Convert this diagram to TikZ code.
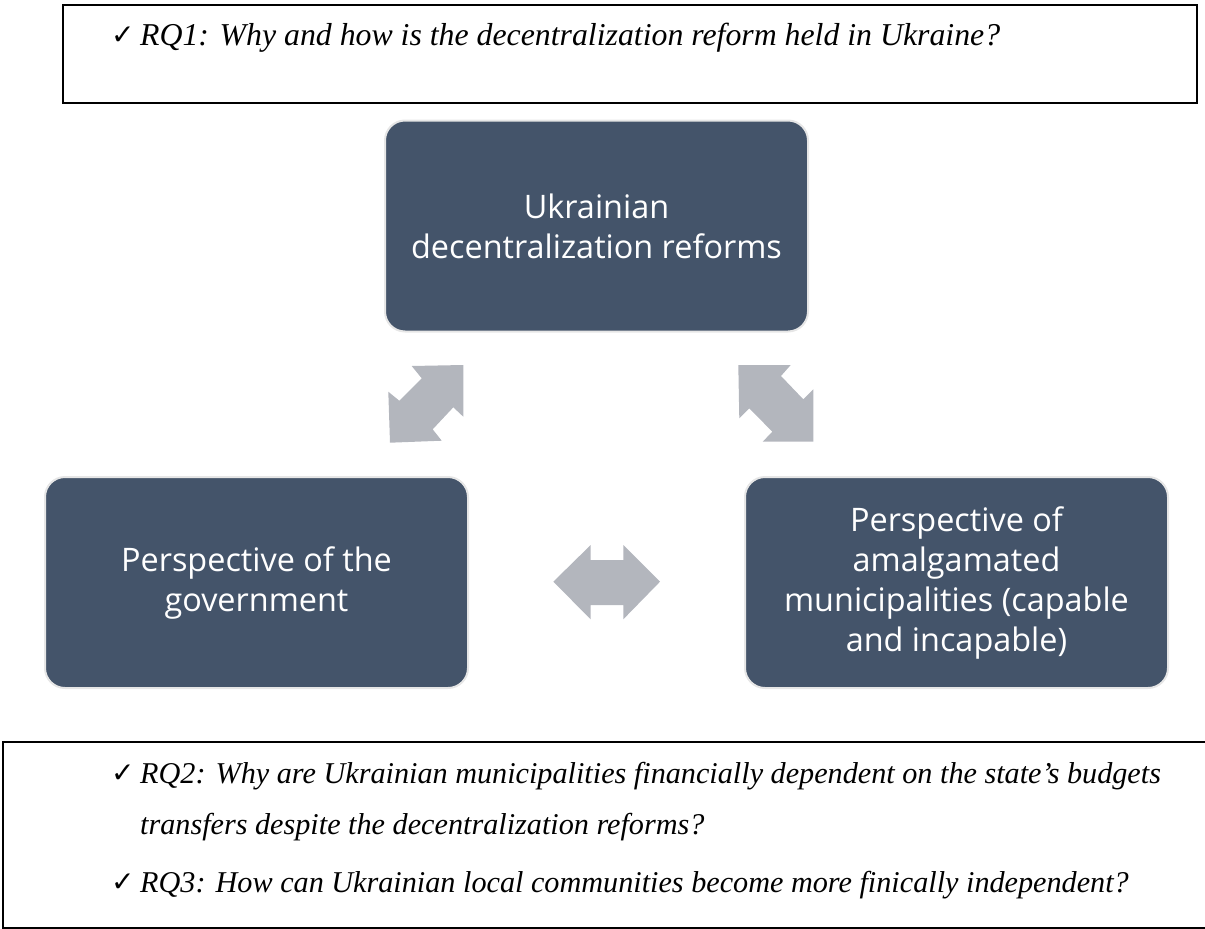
\documentclass[tikz,border=0pt]{standalone}
\usepackage{fontspec}
\setmainfont{Liberation Serif}
\newfontfamily\boxfont{Open Sans}
\newfontfamily\symfont{DejaVu Sans}
\definecolor{slate}{HTML}{44546A}
\definecolor{arrowgray}{HTML}{B3B6BD}
\definecolor{rimgray}{HTML}{E6E6E6}
\begin{document}
\begin{tikzpicture}[x=1pt,y=-1pt,
  theme/.style={draw=rimgray, line width=2pt, fill=slate, rounded corners=20pt,
    text=white, font=\boxfont\fontsize{32.4}{40}\selectfont, align=center,
    minimum width=423pt, minimum height=211pt, inner sep=0pt},
  frame/.style={draw=black, line width=1.2pt},
  question/.style={anchor=base west, inner sep=0pt, font=\itshape\fontsize{30.2}{34}\selectfont},
  tick/.style={anchor=base west, inner sep=0pt, font=\symfont\fontsize{28}{32}\selectfont},
  link/.style={fill=arrowgray}]
\useasboundingbox (0,0) rectangle (1205,929);

% question frames
\draw[frame] (63,5) rectangle (1197,103);
\draw[frame] (3,742) rectangle (1215,928);

\node[tick] (t1) at (111,44) {✓};
\node[question, font=\itshape\fontsize{31.8}{36}\selectfont] (q1) at (140,45) {RQ1: Why and how is the decentralization reform held in Ukraine?};

\node[tick] (t2) at (111,782) {✓};
\node[question] (q2) at (140,783) {RQ2: Why are Ukrainian municipalities financially dependent on the state’s budgets};
\node[question] (q2b) at (140,834) {transfers despite the decentralization reforms?};
\node[tick] (t3) at (111,891) {✓};
\node[question] (q3) at (140,892) {RQ3: How can Ukrainian local communities become more finically independent?};

% theme boxes
\node[theme] (reform) at (596.5,226) {Ukrainian\\decentralization reforms};
\node[theme] (gov) at (256.5,582.5) {Perspective of the\\government};
\node[theme] (muni) at (956.5,582.5) {Perspective of\\amalgamated\\municipalities (capable\\and incapable)};

% double-headed block arrows between the boxes
\fill[link] (411.7,366) -- (463.3,365) -- (463.3,416.7) -- (453.3,407.3) -- (432.7,429.3)
  -- (441.7,440.7) -- (390,442.7) -- (388.3,391.7) -- (399.3,400.7) -- (421.7,378.3) -- cycle;
\fill[link] (738.3,365) -- (790.7,365) -- (781,376) -- (803.3,399.3) -- (813.3,389.3)
  -- (813.3,441.7) -- (762.7,441.7) -- (772.3,431.7) -- (749.3,408.3) -- (739.3,418.3) -- cycle;
\fill[link] (553.3,581.7) -- (590.7,545) -- (590.7,560) -- (623.3,560) -- (623.3,545)
  -- (660,581.7) -- (623.3,619.3) -- (623.3,605) -- (590.7,605) -- (590.7,619.3) -- cycle;
\end{tikzpicture}
\end{document}
